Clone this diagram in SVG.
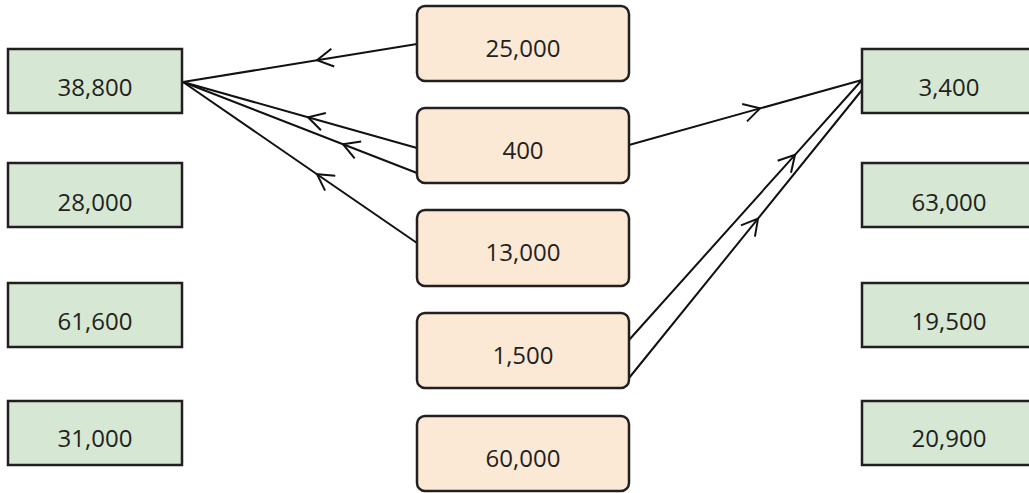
<svg xmlns="http://www.w3.org/2000/svg" width="1029" height="493" viewBox="0 0 1029 493">
<style>
.g{fill:#d6e8d3;stroke:#231f20;stroke-width:2.5}
.o{fill:#fbe8d5;stroke:#231f20;stroke-width:2.5}
.t{font-family:"Open Sans","Noto Sans",sans-serif;font-size:24px;fill:#231f20;text-anchor:middle}
.c{fill:none;stroke:#111;stroke-width:2;marker-mid:url(#chev)}
</style>
<defs>
<marker id="chev" markerUnits="userSpaceOnUse" viewBox="-20 -12 24 24" markerWidth="24" markerHeight="24" refX="0" refY="0" orient="auto" overflow="visible">
<path d="M -16 -9 L 0 0 L -16 9" fill="none" stroke="#111" stroke-width="2"/>
</marker>
</defs>
<rect width="1029" height="493" fill="#fff"/>
<g id="connectors">
<path class="c" d="M 417 44 L 317 60.2 L 183 82"/>
<path class="c" d="M 417 148 L 308 117.3 L 183 82"/>
<path class="c" d="M 417 173 L 343 144.2 L 183 82"/>
<path class="c" d="M 417 243 L 317 174.2 L 183 82"/>
<path class="c" d="M 629 145 L 760 108.4 L 862 80"/>
<path class="c" d="M 629 340 L 795 154.8 L 862 80"/>
<path class="c" d="M 629 378 L 758 218.6 L 862 90"/>
</g>
<g id="L1"><rect class="g" x="8" y="49" width="174" height="64"/><text class="t" x="95" y="96">38,800</text></g>
<g id="L2"><rect class="g" x="8" y="163" width="174" height="64"/><text class="t" x="95" y="211">28,000</text></g>
<g id="L3"><rect class="g" x="8" y="283" width="174" height="64"/><text class="t" x="95" y="330">61,600</text></g>
<g id="L4"><rect class="g" x="8" y="401" width="174" height="64"/><text class="t" x="95" y="447">31,000</text></g>
<g id="C1"><rect class="o" x="417" y="6" width="212" height="75" rx="8"/><text class="t" x="523" y="57">25,000</text></g>
<g id="C2"><rect class="o" x="417" y="108" width="212" height="75" rx="8"/><text class="t" x="523" y="159">400</text></g>
<g id="C3"><rect class="o" x="417" y="210" width="212" height="76" rx="8"/><text class="t" x="523" y="261">13,000</text></g>
<g id="C4"><rect class="o" x="417" y="313" width="212" height="75" rx="8"/><text class="t" x="523" y="364">1,500</text></g>
<g id="C5"><rect class="o" x="417" y="416" width="212" height="75" rx="8"/><text class="t" x="523" y="467">60,000</text></g>
<g id="R1"><rect class="g" x="862" y="49" width="174" height="64"/><text class="t" x="949" y="96">3,400</text></g>
<g id="R2"><rect class="g" x="862" y="163" width="174" height="64"/><text class="t" x="949" y="211">63,000</text></g>
<g id="R3"><rect class="g" x="862" y="283" width="174" height="64"/><text class="t" x="949" y="330">19,500</text></g>
<g id="R4"><rect class="g" x="862" y="401" width="174" height="64"/><text class="t" x="949" y="447">20,900</text></g>
</svg>
